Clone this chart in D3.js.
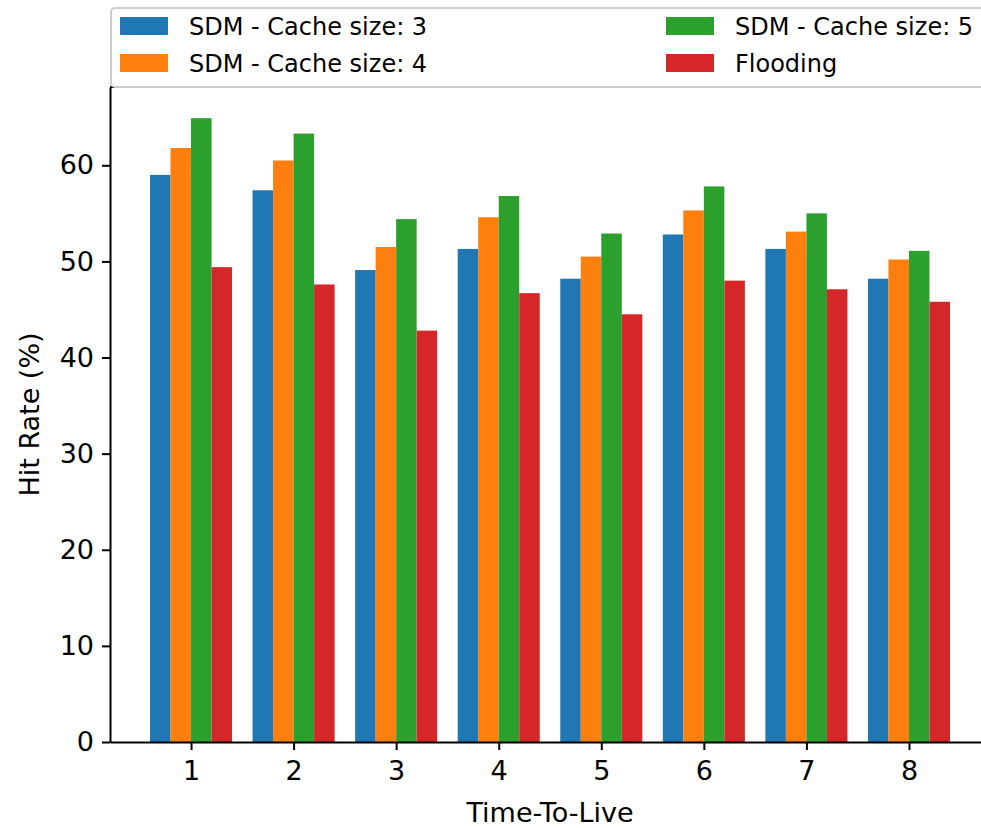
<!DOCTYPE html>
<html>
<head>
<meta charset="utf-8">
<script src="https://cdn.jsdelivr.net/npm/d3@7"></script>
<style>
  body { margin: 0; background: #fff; }
  svg text { font-family: "DejaVu Sans", sans-serif; fill: #000; }
</style>
</head>
<body>
<svg id="chart" width="981" height="828"></svg>
<script>
// values
const ttl = [1, 2, 3, 4, 5, 6, 7, 8];
const sdm3 = [59.0, 57.4, 49.1, 51.3, 48.2, 52.8, 51.3, 48.2];
const sdm4 = [61.8, 60.5, 51.5, 54.6, 50.5, 55.3, 53.1, 50.2];
const sdm5 = [64.9, 63.3, 54.4, 56.8, 52.9, 57.8, 55.0, 51.1];
const flooding = [49.4, 47.6, 42.8, 46.7, 44.5, 48.0, 47.1, 45.8];
const seriesNames = ["SDM - Cache size: 3", "SDM - Cache size: 4", "SDM - Cache size: 5", "Flooding"];
const colors = ["#1f77b4", "#ff7f0e", "#2ca02c", "#d62728"];
const yTicks = [0, 10, 20, 30, 40, 50, 60];

const series = [sdm3, sdm4, sdm5, flooding];
const barW = 0.2;

const svg = d3.select("#chart"),
    margin = {top: 87, left: 110},
    width = 880,
    height = 742 - 87;

const g = svg.append("g").attr("transform", "translate(" + margin.left + "," + margin.top + ")");

// matplotlib style 5% margins
const xMin = ttl[0] - 2 * barW, xMax = ttl[ttl.length - 1] + 2 * barW;
const xPad = (xMax - xMin) * 0.05;
const xScale = d3.scaleLinear().domain([xMin - xPad, xMax + xPad]).range([0, width]);
const yMax = d3.max(series.flat()) * 1.05;
const yScale = d3.scaleLinear().domain([0, yMax]).range([height, 0]);

// bars
series.forEach((vals, s) => {
  const offset = (s - 1.5) * barW;
  g.append("g")
    .selectAll("rect")
    .data(vals)
    .join("rect")
    .attr("x", (d, i) => xScale(ttl[i] + offset - barW / 2))
    .attr("y", d => yScale(d))
    .attr("width", xScale(barW) - xScale(0))
    .attr("height", d => height - yScale(d))
    .attr("fill", colors[s]);
});

// axes
const yAxis = g.append("g")
    .call(d3.axisLeft(yScale).tickValues(yTicks).tickSize(8).tickSizeOuter(0).tickPadding(8));
const xAxis = g.append("g")
    .attr("transform", "translate(0," + height + ")")
    .call(d3.axisBottom(xScale).tickValues(ttl).tickFormat(d3.format("d")).tickSize(8).tickSizeOuter(0).tickPadding(11));

[yAxis, xAxis].forEach(a => {
  a.selectAll("path, line").attr("stroke", "#000").attr("stroke-width", 2);
  a.selectAll("text").style("font-size", "27px").style("font-family", "DejaVu Sans, sans-serif");
});

// top spine (sits under the legend)
g.append("line")
    .attr("x1", 0).attr("x2", width)
    .attr("y1", 0).attr("y2", 0)
    .attr("stroke", "#000").attr("stroke-width", 2);

svg.append("text")
    .attr("x", margin.left + xScale(4.5))
    .attr("y", 822)
    .attr("text-anchor", "middle")
    .style("font-size", "27px")
    .text("Time-To-Live");

svg.append("text")
    .attr("transform", "translate(29," + (margin.top + height / 2) + ") rotate(-90)")
    .attr("text-anchor", "middle")
    .attr("dominant-baseline", "central")
    .style("font-size", "27px")
    .text("Hit Rate (%)");

// legend above the axes, two columns
const legend = svg.append("g");
legend.append("rect")
    .attr("x", 111).attr("y", 8)
    .attr("width", 880).attr("height", 79)
    .attr("rx", 4)
    .attr("fill", "#fff").attr("fill-opacity", 0.8)
    .attr("stroke", "#cccccc").attr("stroke-width", 2);

const colX = [120, 666], rowY = [26, 63];
seriesNames.forEach((name, i) => {
  const col = Math.floor(i / 2), row = i % 2;
  const item = legend.append("g");
  item.append("rect")
      .attr("x", colX[col]).attr("y", rowY[row] - 9)
      .attr("width", 48).attr("height", 18)
      .attr("fill", colors[i]);
  item.append("text")
      .attr("x", colX[col] + 69).attr("y", rowY[row] + 1)
      .attr("dominant-baseline", "central")
      .style("font-size", "24px")
      .text(name);
});
</script>
</body>
</html>
